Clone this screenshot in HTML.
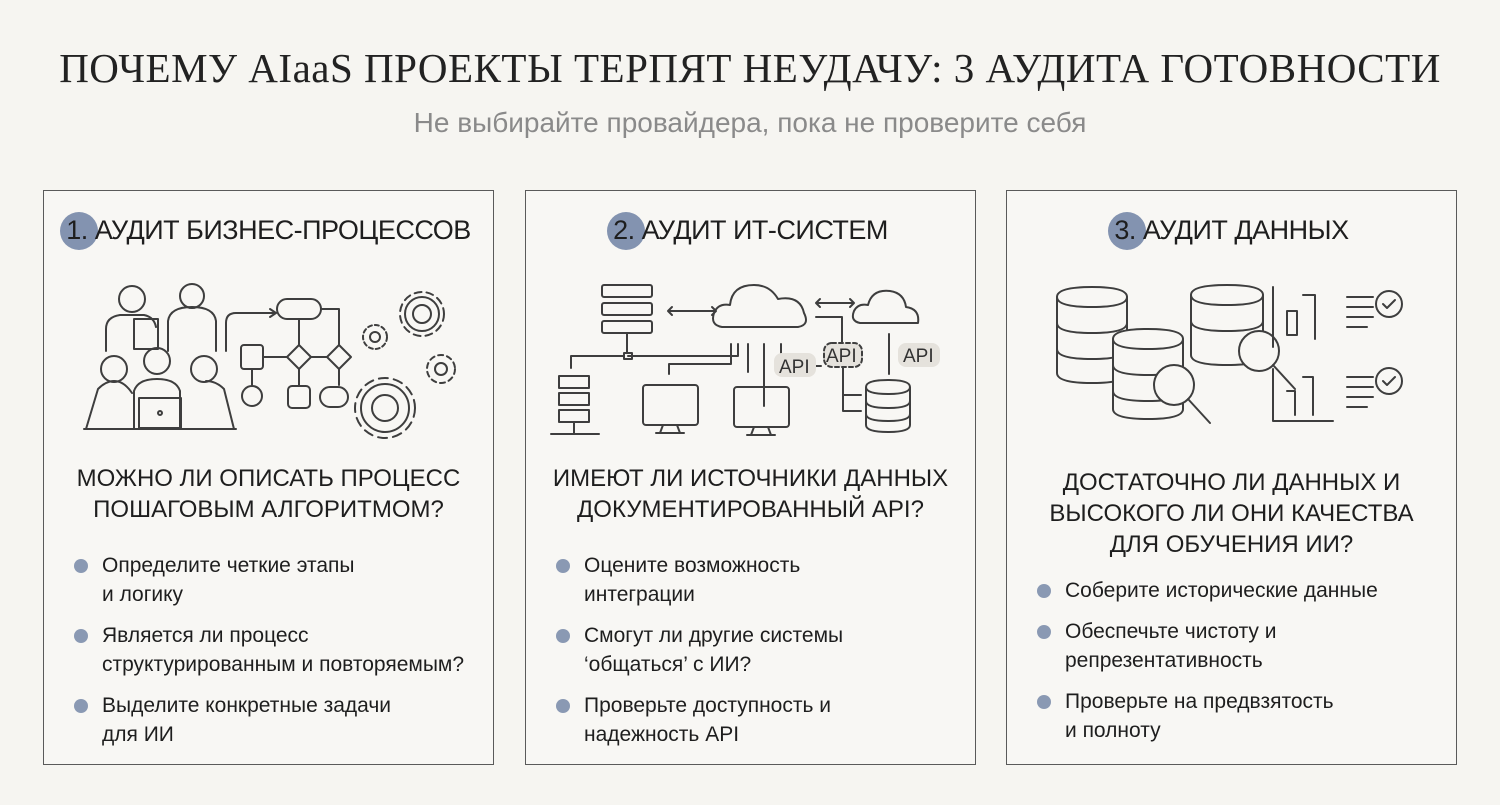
<!DOCTYPE html>
<html><head><meta charset="utf-8"><style>
body{margin:0;width:1500px;height:805px;background:#f6f5f1;font-family:"Liberation Sans",sans-serif;color:#1e1e1e;position:relative;overflow:hidden}
.t{position:absolute;left:0;width:1500px;text-align:center}
.panel{position:absolute;top:190px;width:451px;height:575px;border:1.6px solid #5a5a5a;box-sizing:border-box;background:#f8f7f4}
.h{position:absolute;top:24px;left:0;width:100%;text-align:center;font-size:27px;letter-spacing:-0.5px;white-space:nowrap}
.hi{position:relative;display:inline-block}
.hi span{position:relative}
.badge{position:absolute;left:-6px;top:-3px;width:38px;height:38px;border-radius:50%;background:#8393b0}
.q{position:absolute;left:0;width:100%;text-align:center;font-size:24px;line-height:31px}
ul{position:absolute;left:30px;margin:0;padding:0;list-style:none;font-size:21px;line-height:29px}
li{position:relative;padding-left:28px;margin-bottom:12px}
li:before{content:"";position:absolute;left:0;top:8px;width:14px;height:14px;border-radius:50%;background:#8a99b3}
svg{position:absolute;left:0;top:0}
svg *{fill:none;stroke:#3e3e3e;stroke-width:2;stroke-linecap:round;stroke-linejoin:round}
svg text{fill:#333;stroke:none;font-family:"Liberation Sans",sans-serif;font-size:19px}
</style></head><body>
<div class="t" style="top:44px;font-size:41px;letter-spacing:0.5px;font-family:'Liberation Serif',serif;color:#222">ПОЧЕМУ AIaaS ПРОЕКТЫ ТЕРПЯТ НЕУДАЧУ: 3 АУДИТА ГОТОВНОСТИ</div>
<div class="t" style="top:107px;font-size:28px;color:#8a8a8a">Не выбирайте провайдера, пока не проверите себя</div>

<div class="panel" style="left:43px">
<div class="h"><div class="hi"><div class="badge"></div><span>1. АУДИТ БИЗНЕС-ПРОЦЕССОВ</span></div></div>
<svg width="450" height="574">
<circle cx="88" cy="108" r="13"/><path d="M62 160v-22q0-12 14-14h24q10 2 12 12"/>
<rect x="90" y="128" width="24" height="30"/>
<circle cx="148" cy="105" r="12"/><path d="M124 160v-30q2-14 24-14q22 0 24 14v30"/>
<circle cx="70" cy="178" r="13"/><circle cx="113" cy="170" r="13"/><circle cx="160" cy="178" r="13"/>
<path d="M42 238l12-40q8-8 16-8q10 0 18 12"/><path d="M90 238v-38q4-12 23-12q19 0 23 12v38"/><path d="M190 238l-10-40q-8-8-18-8"/>
<rect x="95" y="207" width="42" height="30"/><circle cx="116" cy="222" r="2"/><path d="M40 238h152"/>
<path d="M182 160v-28q0-10 10-10h40"/><path d="M226 118l6 4-6 4"/>
<rect x="233" y="108" width="44" height="20" rx="10"/>
<path d="M255 128v26M277 118h18v36"/>
<path d="M255 154l12 12-12 12-12-12z"/><path d="M295 154l12 12-12 12-12-12z"/>
<rect x="197" y="154" width="22" height="24" rx="3"/>
<path d="M243 166h-24M267 166h16M208 178v16M255 178v16M295 178v16"/>
<circle cx="208" cy="205" r="10"/><rect x="244" y="195" width="22" height="22" rx="4"/><rect x="276" y="196" width="28" height="20" rx="10"/>
<circle cx="341" cy="217" r="30" stroke-width="7" stroke-dasharray="9 6"/><circle cx="341" cy="217" r="24"/><circle cx="341" cy="217" r="13"/>
<circle cx="378" cy="123" r="22" stroke-width="6" stroke-dasharray="7 5"/><circle cx="378" cy="123" r="17"/><circle cx="378" cy="123" r="9"/>
<circle cx="331" cy="146" r="12" stroke-width="5" stroke-dasharray="4 3"/><circle cx="331" cy="146" r="5"/>
<circle cx="397" cy="178" r="14" stroke-width="5" stroke-dasharray="5 4"/><circle cx="397" cy="178" r="6"/>
</svg>
<div class="q" style="top:272px">МОЖНО ЛИ ОПИСАТЬ ПРОЦЕСС<br>ПОШАГОВЫМ АЛГОРИТМОМ?</div>
<ul style="top:360px"><li>Определите четкие этапы<br>и логику</li><li>Является ли процесс<br>структурированным и повторяемым?</li><li>Выделите конкретные задачи<br>для ИИ</li></ul>
</div>

<div class="panel" style="left:525px">
<div class="h"><div class="hi"><div class="badge"></div><span>2. АУДИТ ИТ-СИСТЕМ</span></div></div>
<svg width="450" height="574">
<rect x="76" y="94" width="50" height="12" rx="2"/><rect x="76" y="112" width="50" height="12" rx="2"/><rect x="76" y="130" width="50" height="12" rx="2"/>
<path d="M101 142v20M98 162h8v6h-8zM98 165H45v12M102 165h110v-12"/>
<path d="M142 120h48M146 116l-4 4 4 4M186 116l4 4-4 4"/>
<path d="M196 136q-12-2-8-14q4-10 16-8q2-20 24-20q16 0 24 14q22-4 26 14q6 12-6 14z"/>
<path d="M290 112h38M294 108l-4 4 4 4M324 108l4 4-4 4"/>
<path d="M334 132q-10-2-6-12q4-8 14-6q4-16 22-14q14 2 16 16q14 2 12 16z"/>
<path d="M290 126h26v38"/>
<path d="M33 185h30v12H33zM33 202h30v12H33zM33 219h30v12H33zM48 231v12M25 243h48"/>
<path d="M205 153v20h-62v10M222 153v28M238 153v62M255 153v22h40"/>
<rect x="117" y="194" width="55" height="40" rx="3"/><path d="M137 234l-3 8h20l-3-8M130 242h28"/>
<rect x="208" y="196" width="55" height="40" rx="3"/><path d="M228 236l-3 8h20l-3-8M221 244h28"/>
<rect x="248" y="162" width="42" height="24" rx="8" style="fill:#e5e2dc;stroke:none"/><text x="253" y="182">API</text>
<rect x="298" y="152" width="38" height="24" rx="8" style="fill:#e5e2dc" stroke-dasharray="4 3"/><text x="300" y="171">API</text>
<rect x="372" y="152" width="42" height="24" rx="8" style="fill:#e5e2dc;stroke:none"/><text x="377" y="171">API</text>
<path d="M363 143v40"/>
<path d="M340 196q0-7 22-7t22 7v38q0 7-22 7t-22-7zM340 196q0 7 22 7t22-7M340 210q0 7 22 7t22-7M340 223q0 7 22 7t22-7"/>
<path d="M317 176v44h18M317 204h18"/>
</svg>
<div class="q" style="top:272px">ИМЕЮТ ЛИ ИСТОЧНИКИ ДАННЫХ<br>ДОКУМЕНТИРОВАННЫЙ API?</div>
<ul style="top:360px"><li>Оцените возможность<br>интеграции</li><li>Смогут ли другие системы<br>‘общаться’ с ИИ?</li><li>Проверьте доступность и<br>надежность API</li></ul>
</div>

<div class="panel" style="left:1006px">
<div class="h"><div class="hi"><div class="badge"></div><span>3. АУДИТ ДАННЫХ</span></div></div>
<svg width="450" height="574">
<path style="fill:#f8f7f4" d="M50 106q0-10 35-10t35 10v76q0 10-35 10t-35-10z"/><path d="M50 106q0 10 35 10t35-10M50 132q0 10 35 10t35-10M50 158q0 10 35 10t35-10"/>
<path style="fill:#f8f7f4" d="M184 104q0-10 36-10t36 10v60q0 10-36 10t-36-10z"/><path d="M184 104q0 10 36 10t36-10M184 130q0 10 36 10t36-10"/>
<path style="fill:#f8f7f4" d="M106 148q0-10 35-10t35 10v70q0 10-35 10t-35-10z"/><path d="M106 148q0 10 35 10t35-10M106 174q0 10 35 10t35-10M106 200q0 10 35 10t35-10"/>
<circle cx="167" cy="194" r="20" stroke-width="3" style="fill:#f8f7f4"/><path d="M181 208l22 24" stroke-width="6"/>
<circle cx="252" cy="160" r="20" stroke-width="3" style="fill:#f8f7f4"/><path d="M266 174l22 24" stroke-width="6"/>
<path d="M266 96v60M280 120h10v24h-10zM296 104h12v44M266 178v52h60M280 200h8v24M296 186h10v38"/>
<path d="M340 106h26M340 116h26M340 126h26M340 136h20M340 186h26M340 196h26M340 206h26M340 216h20"/>
<circle cx="382" cy="113" r="13"/><path d="M376 113l4 4 8-8"/>
<circle cx="382" cy="190" r="13"/><path d="M376 190l4 4 8-8"/>
</svg>
<div class="q" style="top:276px">ДОСТАТОЧНО ЛИ ДАННЫХ И<br>ВЫСОКОГО ЛИ ОНИ КАЧЕСТВА<br>ДЛЯ ОБУЧЕНИЯ ИИ?</div>
<ul style="top:385px"><li>Соберите исторические данные</li><li>Обеспечьте чистоту и<br>репрезентативность</li><li>Проверьте на предвзятость<br>и полноту</li></ul>
</div>
</body></html>
